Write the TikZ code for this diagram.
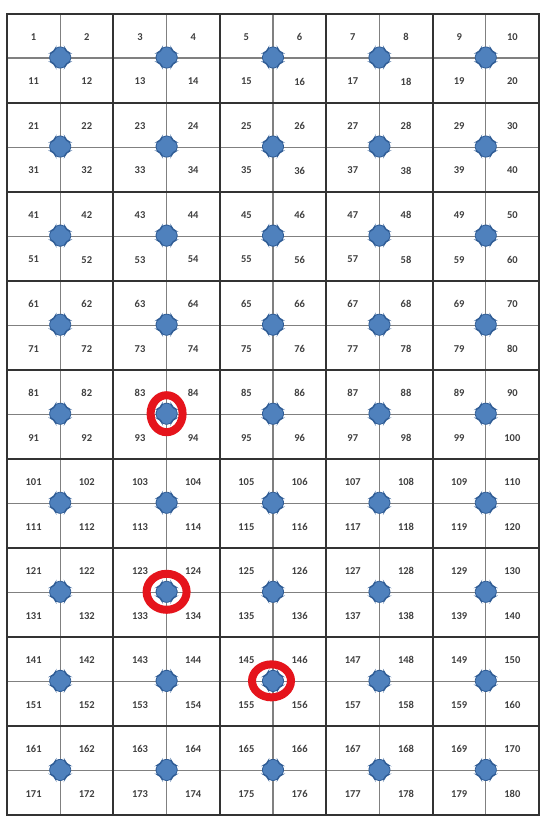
\documentclass[tikz,border=0pt]{standalone}
\usepackage{fontspec}
\setmainfont{Carlito}
\usepackage{xcolor}
\usepackage{tikz}
\definecolor{dotblue}{HTML}{4F81BD}
\definecolor{dotedge}{HTML}{2F5C95}
\definecolor{ringred}{HTML}{E5141C}

\begin{document}
\begin{tikzpicture}[x=1pt, y=-1pt, font=\bfseries\fontsize{10.5}{12}\selectfont,
		bigline/.style={line width=2pt, draw=black!80},
		subline/.style={line width=1.1pt, draw=black!50},
		num/.style={text=black!75, inner sep=0pt},
		blob/.style={fill=dotblue, draw=dotedge, line width=0.8pt, rounded corners=3.5pt},
		ring/.style={line width=8pt, draw=ringred}]
		\useasboundingbox (0,0) rectangle (550,817);
		\fill[white] (0,0) rectangle (550,817);
		
		\foreach \c in {0,...,4}
			\draw[subline] ({7+106.4*\c+53.2},13.5) -- ({7+106.4*\c+53.2},815);
		\foreach \r in {0,...,8}
			\draw[subline] (7,{13.5+89.05*\r+44.5}) -- (539,{13.5+89.05*\r+44.5});
		\foreach \c in {1,...,4}
			\draw[bigline] ({7+106.4*\c},13.5) -- ({7+106.4*\c},815);
		\foreach \r in {1,...,8}
			\draw[bigline] (7,{13.5+89.05*\r}) -- (539,{13.5+89.05*\r});
		\draw[bigline] (7,13.5) rectangle (539,815);
		
		\foreach \r in {0,...,8}
			\foreach \c in {0,...,4} {
				\pgfmathtruncatemacro\a{20*\r+2*\c+1}
				\pgfmathtruncatemacro\b{20*\r+2*\c+2}
				\pgfmathtruncatemacro\e{20*\r+2*\c+11}
				\pgfmathtruncatemacro\f{20*\r+2*\c+12}
				\node[num] (n\a) at ({7+106.4*\c+26.6},{13.5+89.05*\r+23.5}) {\a};
				\node[num] (n\b) at ({7+106.4*\c+79.8},{13.5+89.05*\r+23.5}) {\b};
				\node[num] (n\e) at ({7+106.4*\c+26.6},{13.5+89.05*\r+68}) {\e};
				\node[num] (n\f) at ({7+106.4*\c+79.8},{13.5+89.05*\r+68}) {\f};
				\coordinate (d\r-\c) at ({7+106.4*\c+53.2},{13.5+89.05*\r+44});
				\filldraw[blob, shift={(d\r-\c)}] (10.5,-4.5) -- (10.5,4.5) -- (6,6) -- (4.5,10.5)
					-- (-4.5,10.5) -- (-6,6) -- (-10.5,4.5) -- (-10.5,-4.5) -- (-6,-6)
					-- (-4.5,-10.5) -- (4.5,-10.5) -- (6,-6) -- cycle;
			}
		
		\draw[ring] (d4-1) ellipse [x radius=16pt, y radius=18.5pt];
		\draw[ring] (d6-1) ellipse [x radius=20pt, y radius=18pt];
		\draw[ring] ([xshift=-1.5pt]d7-2) ellipse [x radius=19.5pt, y radius=16.5pt];
	\end{tikzpicture}
\end{document}
